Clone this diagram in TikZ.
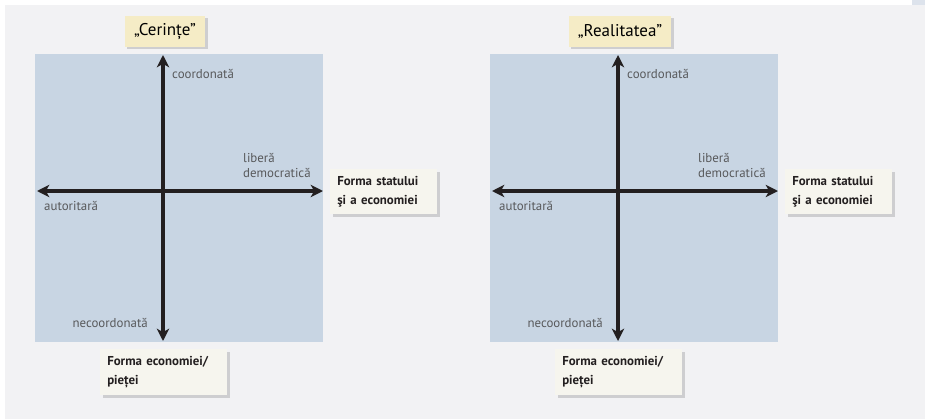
\documentclass[tikz,border=0pt]{standalone}
\usepackage{fontspec}
\setmainfont{PT Sans}
\usetikzlibrary{arrows.meta,shadows}
\definecolor{bggrey}{RGB}{242,242,244}
\definecolor{panelblue}{RGB}{200,213,227}
\definecolor{titleyellow}{RGB}{245,236,198}
\definecolor{boxcream}{RGB}{246,245,238}
\definecolor{axisblack}{RGB}{35,31,32}
\definecolor{labelgrey}{RGB}{88,89,91}
\tikzset{
  axis/.style={axisblack, line width=2.6pt, {Stealth[length=10.5pt,width=10.5pt,inset=3pt]}-{Stealth[length=10.5pt,width=10.5pt,inset=3pt]}},
  pole/.style={labelgrey, font=\fontsize{11}{13}\selectfont, inner sep=0pt, align=left},
  titlebox/.style={fill=titleyellow, font=\fontsize{14.5}{16}\selectfont, minimum height=0.93cm, inner xsep=8pt,
    drop shadow={shadow xshift=2pt, shadow yshift=-2pt, opacity=0.25, fill=black!60}},
  formbox/.style={fill=boxcream, anchor=north west, align=left, inner xsep=6pt, inner ysep=0pt,
    font=\bfseries\fontsize{11}{16.5}\selectfont, text=axisblack,
    drop shadow={shadow xshift=2.5pt, shadow yshift=-2.5pt, opacity=0.25, fill=black!60}}
}
\begin{document}
\begin{tikzpicture}[x=0.03cm, y=-0.03cm]
\useasboundingbox (0,0) rectangle (925,419);
% page background
\fill[white] (0,0) rectangle (925,419);
\fill[bggrey] (5,5) rectangle (925,419);
\fill[panelblue!50!bggrey] (912,0) rectangle (925,5);
% two panels: requirements and reality
\foreach \i/\dx/\ttl in {1/0/{„Cerințe”}, 2/455/{„Realitatea”}} {
  \begin{scope}[shift={(\dx,0)}]
    \fill[panelblue] (35,54) rectangle (323,342);
    \coordinate (top\i) at (163,55);
    \coordinate (bot\i) at (163,341);
    \coordinate (left\i) at (37,191);
    \coordinate (right\i) at (323,191);
    \draw[axis] (bot\i) -- (top\i);
    \draw[axis] (left\i) -- (right\i);
    \node[titlebox] (title\i) at (165,31.5) {\ttl};
    \node[pole, anchor=west] (coord\i) at (172,74) {coordonată};
    \node[pole, anchor=west] (free\i) at (243,165.5) {liberă\\democratică};
    \node[pole, anchor=west] (auth\i) at (44,206) {autoritară};
    \node[pole, anchor=east] (uncoord\i) at (148,323) {necoordonată};
    \node[formbox, text width=2.79cm, minimum height=1.35cm] (state\i) at (330,169)
      {Forma statului\\şi a economiei};
    \node[formbox, text width=3.39cm, minimum height=1.38cm] (market\i) at (100,349)
      {Forma economiei/\\pieței};
  \end{scope}
}
\end{tikzpicture}
\end{document}
